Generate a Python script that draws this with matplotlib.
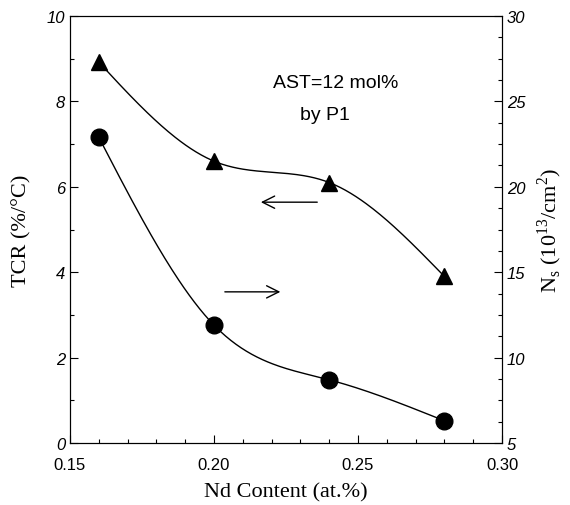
import numpy as np
import matplotlib
matplotlib.use("Agg")
import matplotlib.pyplot as plt
from matplotlib.ticker import MultipleLocator

nd_content = [0.16, 0.20, 0.24, 0.28]
tcr = [8.92, 6.6, 6.1, 3.9]
ns = [22.9, 11.9, 8.7, 6.3]


def natural_spline(x, y, n=200):
    x = np.asarray(x, float); y = np.asarray(y, float)
    k = len(x)
    h = np.diff(x)
    A = np.zeros((k, k)); b = np.zeros(k)
    A[0, 0] = A[-1, -1] = 1
    for i in range(1, k - 1):
        A[i, i - 1] = h[i - 1]
        A[i, i] = 2 * (h[i - 1] + h[i])
        A[i, i + 1] = h[i]
        b[i] = 6 * ((y[i + 1] - y[i]) / h[i] - (y[i] - y[i - 1]) / h[i - 1])
    M = np.linalg.solve(A, b)
    xs = np.linspace(x[0], x[-1], n)
    ys = np.empty_like(xs)
    for j, xv in enumerate(xs):
        i = min(np.searchsorted(x, xv, side="right") - 1, k - 2)
        t1 = x[i + 1] - xv; t0 = xv - x[i]
        ys[j] = (M[i] * t1 ** 3 / (6 * h[i]) + M[i + 1] * t0 ** 3 / (6 * h[i])
                 + (y[i] / h[i] - M[i] * h[i] / 6) * t1
                 + (y[i + 1] / h[i] - M[i + 1] * h[i] / 6) * t0)
    return xs, ys


fig = plt.figure(figsize=(5.7, 5.06), dpi=100)
ax = fig.add_axes([0.1228, 0.1225, 0.758, 0.8439])
ax2 = ax.twinx()

sx, sy = natural_spline(nd_content, tcr)
ax.plot(sx, sy, color="black", lw=1.0)
ax.plot(nd_content, tcr, linestyle="none", marker="^", ms=11, color="black")

cx, cy = natural_spline(nd_content, ns)
ax2.plot(cx, cy, color="black", lw=1.0)
ax2.plot(nd_content, ns, linestyle="none", marker="o", ms=12, color="black")

ax.set_xlim(0.15, 0.30)
ax.set_ylim(0, 10)
ax2.set_ylim(5, 30)

ax.xaxis.set_major_locator(MultipleLocator(0.05))
ax.xaxis.set_minor_locator(MultipleLocator(0.01))
ax.yaxis.set_major_locator(MultipleLocator(2))
ax.yaxis.set_minor_locator(MultipleLocator(1))
ax2.yaxis.set_major_locator(MultipleLocator(5))
ax2.yaxis.set_minor_locator(MultipleLocator(1.25))

for a in (ax, ax2):
    a.tick_params(which="both", direction="in", top=False, width=0.8)
    a.tick_params(which="major", length=6)
    a.tick_params(which="minor", length=3)
ax.tick_params(axis="y", which="both", right=False)
ax2.tick_params(axis="y", which="both", left=False)
ax.tick_params(axis="x", which="major", pad=10)

ax.set_xticks([0.15, 0.20, 0.25, 0.30])
ax.set_xticklabels(["0.15", "0.20", "0.25", "0.30"], fontsize=12, family="Liberation Sans")
ax.set_yticks([0, 2, 4, 6, 8, 10])
ax.set_yticklabels(["0", "2", "4", "6", "8", "10"], fontsize=12, family="Liberation Sans", style="italic")
ax2.set_yticks([5, 10, 15, 20, 25, 30])
ax2.set_yticklabels(["5", "10", "15", "20", "25", "30"], fontsize=12, family="Liberation Sans", style="italic")

ax.set_xlabel("Nd Content (at.%)", fontsize=16, family="Liberation Serif")
ax.xaxis.set_label_coords(0.5, -0.093)
ax.set_ylabel("TCR (%/°C)", fontsize=16, family="Liberation Serif")
ax.yaxis.set_label_coords(-0.088, 0.5)
ax2.set_ylabel(r"N$_\mathregular{s}$ (10$^\mathregular{13}$/cm$^\mathregular{2}$)", fontsize=16,
               family="Liberation Serif", rotation=90)
ax2.yaxis.set_label_coords(1.077, 0.5)

ax.text(0.616, 0.845, "AST=12 mol%", transform=ax.transAxes, ha="center", va="center",
        fontsize=14, family="Liberation Sans")
ax.text(0.59, 0.77, "by P1", transform=ax.transAxes, ha="center", va="center",
        fontsize=14, family="Liberation Sans")

ax.annotate("", xy=(0.2153, 5.64), xytext=(0.2368, 5.64),
            arrowprops=dict(arrowstyle="->", color="black", lw=1.0, mutation_scale=22))
ax.annotate("", xy=(0.224, 3.54), xytext=(0.2028, 3.54),
            arrowprops=dict(arrowstyle="->", color="black", lw=1.0, mutation_scale=22))

fig.savefig("out.png", dpi=100)
